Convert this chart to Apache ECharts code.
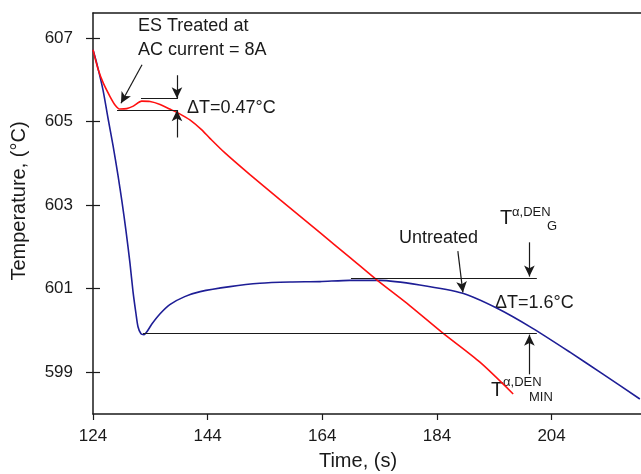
<!DOCTYPE html>
<html><head><meta charset="utf-8">
<script src="https://cdn.jsdelivr.net/npm/echarts@6/dist/echarts.min.js"></script>
<style>html,body{margin:0;padding:0;background:#fff}#c{width:641px;height:474px}</style>
</head><body><div id="c"></div>
<script>
// ---- data ----
const xTicks = [124, 144, 164, 184, 204];
const yTicks = [599, 601, 603, 605, 607];

const treatedTime = [124.0, 124.92, 125.8, 126.97, 127.84, 128.71, 129.88, 131.03, 132.5, 133.95, 135.7, 137.4, 139.2, 140.9, 142.83, 144.4, 147.02, 151.38, 156.61, 163.6, 168.8, 173.5, 179.3, 185.1, 191.5, 197.3];
const treatedTemp = [606.72, 606.24, 605.92, 605.60, 605.40, 605.30, 605.31, 605.37, 605.49, 605.48, 605.41, 605.30, 605.18, 605.04, 604.82, 604.60, 604.25, 603.73, 603.13, 602.34, 601.75, 601.21, 600.59, 599.93, 599.24, 598.48];

const untreatedTime = [124.0, 124.7, 125.74, 126.62, 127.49, 128.36, 129.06, 129.76, 130.45, 130.98, 131.5, 131.85, 132.37, 132.9, 133.4, 134.3, 135.7, 137.4, 140.0, 142.7, 147.9, 153.1, 158.4, 163.6, 168.8, 174.1, 181.0, 188.5, 194.5, 200.7, 207.2, 212.9, 219.4];
const untreatedTemp = [606.72, 606.37, 605.76, 605.08, 604.43, 603.71, 603.08, 602.38, 601.61, 600.93, 600.40, 600.09, 599.92, 599.90, 599.97, 600.16, 600.40, 600.62, 600.81, 600.93, 601.05, 601.13, 601.16, 601.17, 601.20, 601.20, 601.09, 600.89, 600.53, 600.05, 599.48, 598.96, 598.36];

// annotation reference lines / arrows (data coords)
const treatedGuide = [[[132.37, 605.55], [138.82, 605.55]], [[128.19, 605.28], [138.82, 605.28]]];
const treatedArrows = [[[138.65, 606.11], [138.65, 605.56]], [[138.65, 604.62], [138.65, 605.27]], [[132.55, 606.36], [128.88, 605.44]]];
const untreatedGuide = [[[169.0, 601.26], [201.43, 601.26]], [[132.72, 599.93], [201.43, 599.93]]];
const untreatedArrows = [[[200.13, 602.11], [200.13, 601.29]], [[200.13, 598.95], [200.13, 599.90]], [[187.65, 601.90], [188.53, 600.91]]];

const treated = treatedTime.map((t, i) => [t, treatedTemp[i]]);
const untreated = untreatedTime.map((t, i) => [t, untreatedTemp[i]]);

const FONT = "'Liberation Sans', Arial, sans-serif";
const INK = '#1a1a1a';

function ml(pairs, arrow) {
  return pairs.map(p => [
    { coord: p[0], symbol: 'none' },
    { coord: p[1], symbol: arrow ? 'arrow' : 'none', symbolSize: arrow ? [8, 11] : 0 }
  ]);
}
function txt(text, x, y, size, extra) {
  return Object.assign({ type: 'text', x: x, y: y, silent: true,
    style: { text: text, fontFamily: FONT, fontSize: size, fill: INK, align: 'left', verticalAlign: 'middle' } }, extra || {});
}

const chart = echarts.init(document.getElementById('c'), null, { renderer: 'canvas' });
const axisLine = { show: true, lineStyle: { color: INK, width: 1.5 } };
chart.setOption({
  animation: false,
  backgroundColor: '#fff',
  grid: { left: 93, right: 0, top: 13, bottom: 60, containLabel: false },
  xAxis: [{
    type: 'value', min: 124, max: 219.6, position: 'bottom',
    axisLine: axisLine, splitLine: { show: false },
    axisTick: { show: true, inside: false, length: 6, customValues: xTicks, lineStyle: { color: INK, width: 1.2 } },
    axisLabel: { customValues: xTicks, margin: 14, fontSize: 17, fontFamily: FONT, color: INK }
  }, {
    type: 'value', min: 124, max: 219.6, position: 'top',
    axisLine: axisLine, splitLine: { show: false }, axisTick: { show: false }, axisLabel: { show: false }
  }],
  yAxis: [{
    type: 'value', min: 598, max: 607.6, position: 'left',
    axisLine: axisLine, splitLine: { show: false },
    axisTick: { show: true, inside: false, length: 7, customValues: yTicks, lineStyle: { color: INK, width: 1.2 } },
    axisLabel: { customValues: yTicks, margin: 20, fontSize: 17, fontFamily: FONT, color: INK }
  }, {
    type: 'value', min: 598, max: 607.6, position: 'left',
    axisLine: { show: false }, splitLine: { show: false }, axisLabel: { show: false },
    axisTick: { show: true, inside: true, length: 7, customValues: yTicks, lineStyle: { color: INK, width: 1.2 } }
  }],
  series: [{
    name: 'ES Treated', type: 'line', data: treated, smooth: 0.25, showSymbol: false,
    lineStyle: { color: '#ff1010', width: 1.6 }, z: 3,
    markLine: { silent: true, animation: false, label: { show: false }, lineStyle: { color: INK, width: 1.2, type: 'solid' },
      data: ml(treatedGuide, false).concat(ml(treatedArrows, true)) }
  }, {
    name: 'Untreated', type: 'line', data: untreated, smooth: 0.25, showSymbol: false,
    lineStyle: { color: '#1e1e96', width: 1.6 }, z: 2,
    markLine: { silent: true, animation: false, label: { show: false }, lineStyle: { color: INK, width: 1.2, type: 'solid' },
      data: ml(untreatedGuide, false).concat(ml(untreatedArrows, true)) }
  }],
  graphic: [
    txt('Temperature, (°C)', 19, 201, 20, { rotation: Math.PI / 2, style: { text: 'Temperature, (°C)', fontFamily: FONT, fontSize: 20, fill: INK, align: 'center', verticalAlign: 'middle' } }),
    txt('Time, (s)', 358, 461, 20, { style: { text: 'Time, (s)', fontFamily: FONT, fontSize: 20, fill: INK, align: 'center', verticalAlign: 'middle' } }),
    txt('ES Treated at', 138, 26, 18),
    txt('AC current = 8A', 138, 50, 18),
    txt('ΔT=0.47°C', 187, 108, 18),
    txt('Untreated', 399, 238, 18),
    txt('ΔT=1.6°C', 495, 303.5, 18),
    txt('T', 500, 218, 20),
    txt('α,DEN', 512, 212, 13),
    txt('G', 547, 226, 13),
    txt('T', 491, 390, 20),
    txt('α,DEN', 503, 382, 13),
    txt('MIN', 529, 397, 13)
  ]
});
</script>
</body></html>
